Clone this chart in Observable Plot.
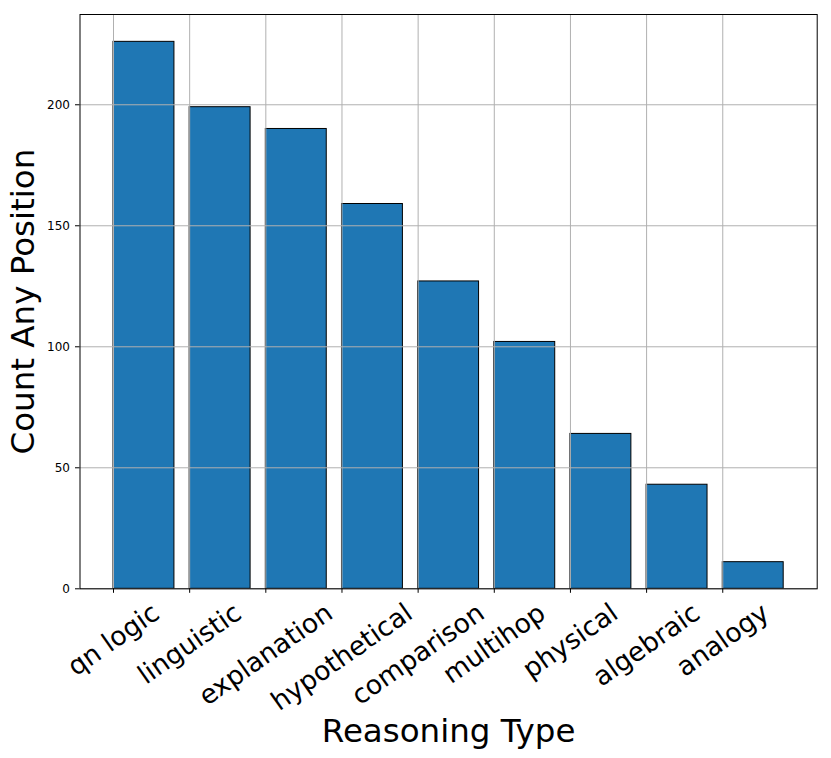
<!DOCTYPE html>
<html>
<head>
<meta charset="utf-8">
<script src="https://cdn.jsdelivr.net/npm/d3@7"></script>
<script src="https://cdn.jsdelivr.net/npm/@observablehq/plot@0.6"></script>
<style>
  html, body { margin: 0; padding: 0; background: #fff; }
</style>
</head>
<body>
<div id="chart"></div>
<script>
const categories = ["qn logic", "linguistic", "explanation", "hypothetical", "comparison", "multihop", "physical", "algebraic", "analogy"];
const counts = [226, 199, 190, 159, 127, 102, 64, 43, 11];
const yTicks = [0, 50, 100, 150, 200];
const xLabel = "Reasoning Type";
const yLabel = "Count Any Position";

const barWidth = 0.8;
const data = categories.map((c, i) => ({ category: c, i, i2: i + barWidth, count: counts[i] }));
const idx = categories.map((c, i) => i);

// matplotlib-like 5% margins
const span = (categories.length - 1) + barWidth;
const xDomain = [-0.05 * span, (categories.length - 1) + barWidth + 0.05 * span];
const yDomain = [0, d3.max(counts) * 1.05];

const W = 831, H = 758;
const mL = 79.5, mR = 14.3, mT = 14, mB = 169.7;

const font = "DejaVu Sans";
const tickFs = 26.5;
const angle = 35;
const rad = angle * Math.PI / 180;
const ctx = document.createElement("canvas").getContext("2d");
ctx.font = `${tickFs}px "${font}"`;
const lineH = 1.164 * tickFs;
const pad = 8.6;

const labelMarks = categories.map((c, i) => {
  const w = ctx.measureText(c).width;
  const bboxH = w * Math.sin(rad) + lineH * Math.cos(rad);
  return Plot.text([i], {
    x: d => d,
    frameAnchor: "bottom",
    text: () => c,
    rotate: -angle,
    textAnchor: "middle",
    lineAnchor: "middle",
    dy: pad + bboxH / 2,
    fontSize: tickFs,
    fill: "black"
  });
});

const chart = Plot.plot({
  width: W,
  height: H,
  marginLeft: mL,
  marginRight: mR,
  marginTop: mT,
  marginBottom: mB,
  style: { fontFamily: font, background: "white", color: "black" },
  x: { type: "linear", domain: xDomain },
  y: { domain: yDomain },
  marks: [
    Plot.rectY(data, { x1: "i", x2: "i2", y: "count", fill: "#1f77b4", stroke: "black", strokeWidth: 1 }),
    Plot.gridY(yTicks, { stroke: "#b0b0b0", strokeOpacity: 1, strokeWidth: 1 }),
    Plot.gridX(idx, { stroke: "#b0b0b0", strokeOpacity: 1, strokeWidth: 1 }),
    Plot.axisY({ ticks: yTicks, tickSize: 4.5, tickPadding: 5.5, fontSize: 12, label: null, stroke: "black" }),
    Plot.axisX({ ticks: idx, tickSize: 4.5, tickFormat: () => "", label: null, stroke: "black" }),
    ...labelMarks,
    Plot.text([xLabel], { frameAnchor: "bottom", text: d => d, textAnchor: "middle", dy: 153.2, lineAnchor: "bottom", fontSize: 32.5, fill: "black" }),
    Plot.text([yLabel], { frameAnchor: "left", text: d => d, textAnchor: "middle", dx: -46.5, rotate: -90, lineAnchor: "bottom", fontSize: 32.5, fill: "black" }),
    Plot.frame({ stroke: "black", strokeWidth: 1 })
  ]
});
document.getElementById("chart").appendChild(chart);
</script>
</body>
</html>
